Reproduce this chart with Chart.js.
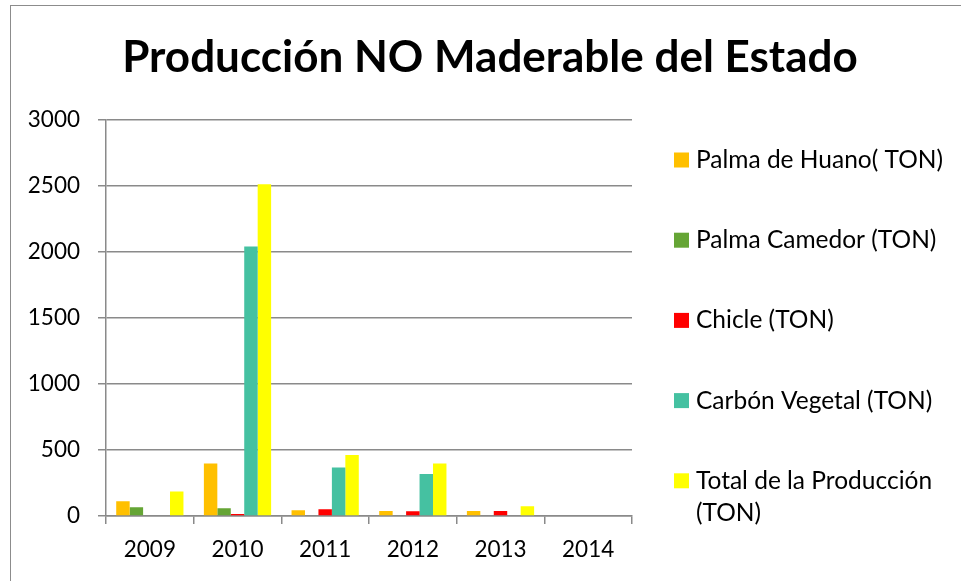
<!DOCTYPE html>
<html>
<head>
<meta charset="utf-8">
<script src="https://cdn.jsdelivr.net/npm/chart.js@4"></script>
<style>
  html, body { margin: 0; padding: 0; background: #fff; overflow: hidden; }
  #wrap { position: relative; width: 961px; height: 581px; }
  #frame { position: absolute; left: 10px; top: 5px; width: 1100px; height: 800px; border: 1px solid #8c8c8c; box-sizing: border-box; }
  canvas { position: absolute; left: 0; top: 0; }
</style>
</head>
<body>
<div id="wrap">
  <div id="frame"></div>
  <canvas id="c" width="961" height="581"></canvas>
</div>
<script>
const titleText = 'Producción NO Maderable del Estado';
const categories = ['2009', '2010', '2011', '2012', '2013', '2014'];
const seriesNames = ['Palma de Huano( TON)', 'Palma Camedor (TON)', 'Chicle (TON)', 'Carbón Vegetal (TON)', 'Total de la Producción (TON)'];
const palmaHuano   = [111, 397, 43, 38, 38, 0];
const palmaCamedor = [66, 58, 0, 0, 0, 0];
const chicle       = [0, 15, 51, 36, 38, 0];
const carbon       = [0, 2038, 366, 318, 0, 0];
const total        = [185, 2508, 462, 397, 73, 0];
const yTicks = [0, 500, 1000, 1500, 2000, 2500, 3000];
const yTickLabels = ['0', '500', '1000', '1500', '2000', '2500', '3000'];
const colors = ['#FFC000', '#65A535', '#FF0000', '#45C1A1', '#FFFF00'];

const FONT = 'Lato';
const gridColor = '#8a8a8a';

const legendPlugin = {
  id: 'sideLegend',
  afterDraw(chart) {
    const ctx = chart.ctx;
    ctx.save();
    ctx.font = '24.5px ' + FONT;
    ctx.textBaseline = 'middle';
    ctx.textAlign = 'left';
    const maxW = 255;
    chart.data.datasets.forEach((ds, i) => {
      const cy = 160 + i * 80.2;
      ctx.fillStyle = ds.backgroundColor;
      ctx.fillRect(674, cy - 7.5, 15, 15);
      ctx.fillStyle = '#000';
      const words = ds.label.split(' ');
      let lines = [], cur = '';
      words.forEach(w => {
        const t = cur ? cur + ' ' + w : w;
        if (ctx.measureText(t).width > maxW && cur) { lines.push(cur); cur = w; } else cur = t;
      });
      lines.push(cur);
      lines.forEach((ln, k) => ctx.fillText(ln, 696, cy + k * 32));
    });
    ctx.restore();
  }
};

new Chart(document.getElementById('c'), {
  type: 'bar',
  data: {
    labels: categories,
    datasets: [palmaHuano, palmaCamedor, chicle, carbon, total].map((d, i) => ({
      label: seriesNames[i],
      data: d,
      backgroundColor: colors[i],
      categoryPercentage: 0.767,
      barPercentage: 1.0
    }))
  },
  options: {
    responsive: false,
    animation: false,
    devicePixelRatio: 1,
    layout: { padding: { left: 19, right: 0, top: 0, bottom: 0 } },
    plugins: {
      legend: { display: false },
      tooltip: { enabled: false },
      title: {
        display: true,
        text: titleText,
        color: '#000',
        font: { family: FONT, size: 44, weight: 'bold', lineHeight: 1.2 },
        padding: { top: 31.6, bottom: 34.9 }
      }
    },
    scales: {
      x: {
        grid: { display: true, drawOnChartArea: false, drawTicks: true, tickLength: 8, color: gridColor, lineWidth: 1.5, offset: true },
        border: { display: true, color: gridColor, width: 1.5 },
        ticks: { color: '#000', font: { family: FONT, size: 22.5 }, padding: 12, maxRotation: 0 },
        afterFit(s) { s.height = 65; }
      },
      y: {
        min: 0, max: 3000,
        afterBuildTicks(s) { s.ticks = yTicks.map(v => ({ value: v })); },
        grid: { display: true, drawOnChartArea: true, drawTicks: true, tickLength: 8, color: gridColor, lineWidth: 1.5 },
        border: { display: true, color: gridColor, width: 1.5 },
        ticks: {
          color: '#000', font: { family: FONT, size: 22.5 }, padding: 18,
          callback: (v) => yTickLabels[yTicks.indexOf(v)]
        },
        afterFit(s) { s.width = 87; }
      },
      yr: {
        position: 'right',
        display: true,
        grid: { display: false },
        border: { display: false },
        ticks: { display: false },
        afterFit(s) { s.width = 329; }
      }
    }
  },
  plugins: [legendPlugin]
});
</script>
</body>
</html>
